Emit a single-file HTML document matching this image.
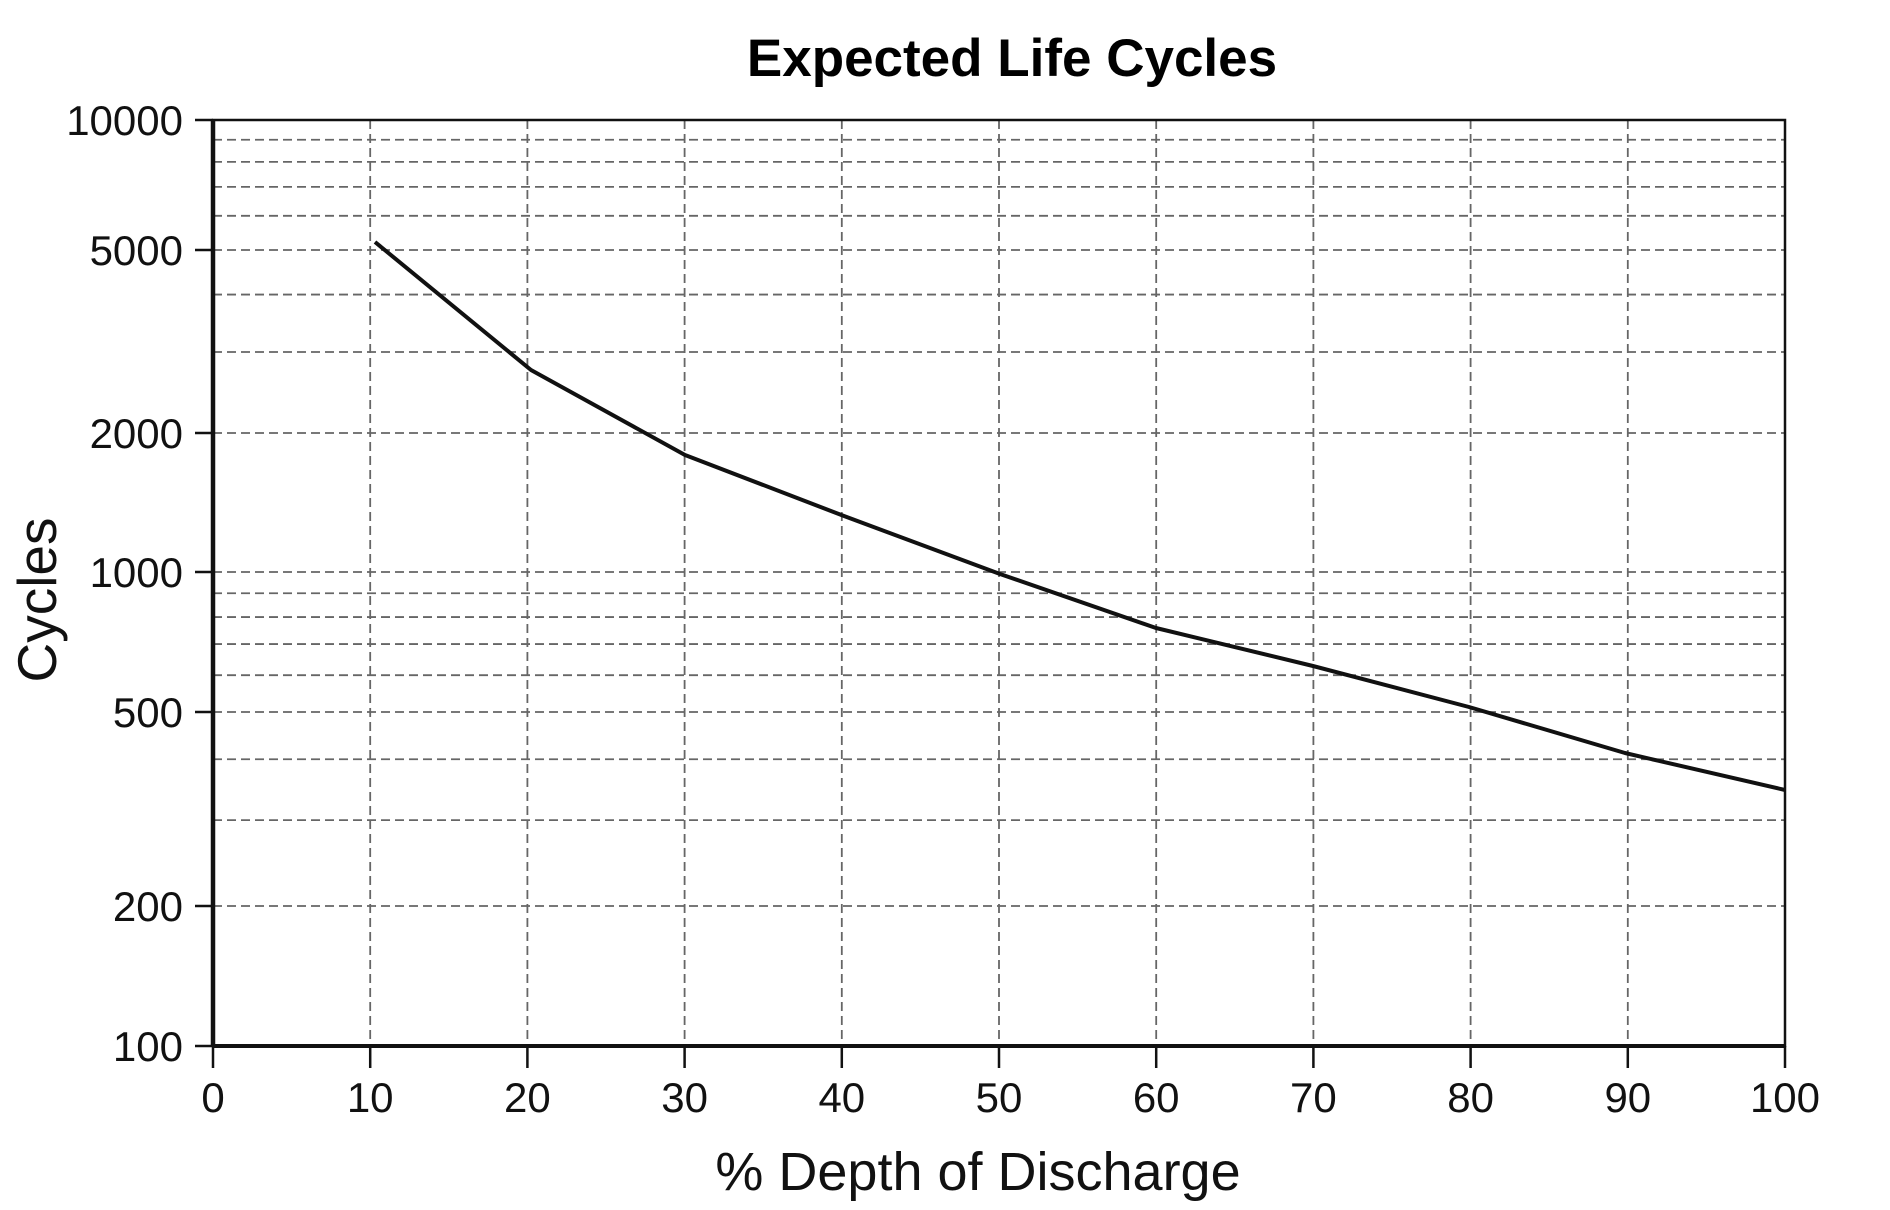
<!DOCTYPE html>
<html><head><meta charset="utf-8"><style>
html,body{margin:0;padding:0;background:#fff;}
svg{display:block;font-family:"Liberation Sans",Arial,sans-serif;}
</style></head><body>
<svg width="1890" height="1210" viewBox="0 0 1890 1210" xmlns="http://www.w3.org/2000/svg">
<text x="1012" y="76" text-anchor="middle" font-size="53" font-weight="bold">Expected Life Cycles</text>
<g id="grid" stroke="#666" stroke-width="1.8" stroke-dasharray="9,5" fill="none"></g>
<g id="ticks" stroke="#111" stroke-width="2.5"></g>
<g id="labels" font-size="42" fill="#111"></g>
<rect x="213" y="120" width="1572" height="926" fill="none" stroke="#111" stroke-width="2.5"/>
<line x1="213" y1="120" x2="213" y2="1046" stroke="#111" stroke-width="4.5"/>
<line x1="213" y1="1046" x2="1785" y2="1046" stroke="#111" stroke-width="4"/>
<polyline fill="none" stroke="#111" stroke-width="4" stroke-linejoin="round"
 points="375,242 531,370 685,455 844,516 1000,574 1156,628 1313,666 1469,707 1625,753 1785,790"/>
<text transform="translate(56,600) rotate(-90)" text-anchor="middle" font-size="55" fill="#111">Cycles</text>
<text x="978" y="1190" text-anchor="middle" font-size="54" fill="#111">% Depth of Discharge</text>
</svg>
<script>
const ns="http://www.w3.org/2000/svg";
const K=[[100,1046],[200,906],[500,712],[1000,572],[2000,433],[5000,250],[10000,120]];
function Y(v){const l=Math.log10(v);for(let i=0;i<K.length-1;i++){const a=Math.log10(K[i][0]),b=Math.log10(K[i+1][0]);if(l<=b+1e-9){return K[i][1]+(l-a)/(b-a)*(K[i+1][1]-K[i][1]);}}return 120;}
function X(d){return 213+15.72*d;}
const g=document.getElementById('grid'),t=document.getElementById('ticks'),L=document.getElementById('labels');
function el(p,n,a,txt){const e=document.createElementNS(ns,n);for(const k in a)e.setAttribute(k,a[k]);if(txt)e.textContent=txt;p.appendChild(e);}
const vals=[200,300,400,500,600,700,800,900,1000,2000,3000,4000,5000,6000,7000,8000,9000];
vals.forEach(v=>el(g,'line',{x1:213,x2:1785,y1:Y(v),y2:Y(v)}));
for(let d=10;d<100;d+=10)el(g,'line',{x1:X(d),x2:X(d),y1:120,y2:1046});
[100,200,500,1000,2000,5000,10000].forEach(v=>{const y=Y(v);el(t,'line',{x1:195,x2:213,y1:y,y2:y});el(L,'text',{x:183,y:y+15,'text-anchor':'end'},String(v));});
for(let d=0;d<=100;d+=10){const x=X(d);el(t,'line',{x1:x,x2:x,y1:1046,y2:1068});el(L,'text',{x:x,y:1112,'text-anchor':'middle'},String(d));}
</script>
</body></html>
